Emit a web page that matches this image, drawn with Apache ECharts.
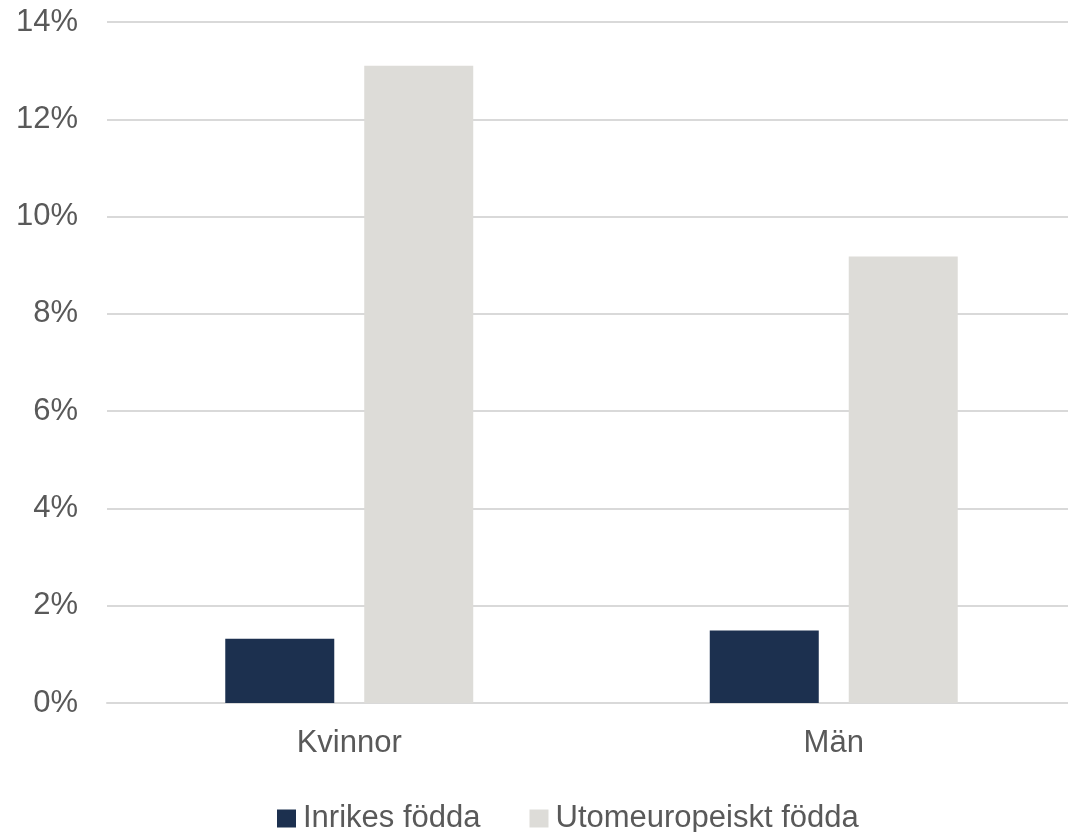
<!DOCTYPE html>
<html><head><meta charset="utf-8">
<script src="https://cdn.jsdelivr.net/npm/echarts@6/dist/echarts.min.js"></script>
<style>html,body{margin:0;padding:0;background:#fff}#c{width:1068px;height:832px}</style>
</head><body><div id="c"></div>
<script>
const categories = ['Kvinnor', 'Män'];
const seriesNames = ['Inrikes födda', 'Utomeuropeiskt födda'];
const inrikes = [1.32, 1.49];
const utomeuropeiskt = [13.1, 9.18];
const yTicks = [0, 2, 4, 6, 8, 10, 12, 14];

const chart = echarts.init(document.getElementById('c'));
const font = 'Liberation Sans, Arial, sans-serif';
chart.setOption({
  animation: false,
  grid: { left: 107, top: 22, width: 969, height: 681, containLabel: false, outerBoundsMode: 'none' },
  legend: {
    top: 798, left: 272,
    itemWidth: 19, itemHeight: 18, itemGap: 49,
    icon: 'rect',
    textStyle: { fontFamily: font, fontSize: 31, color: '#595959', padding: [0, 0, 0, 2] },
    data: seriesNames
  },
  xAxis: {
    type: 'category', data: categories,
    axisLine: { lineStyle: { color: '#D9D9D9', width: 2 } },
    axisTick: { show: false },
    axisLabel: { fontFamily: font, fontSize: 31, color: '#595959', margin: 25 }
  },
  yAxis: {
    type: 'value', min: yTicks[0], max: yTicks[yTicks.length-1], interval: 2,
    axisLine: { show: false }, axisTick: { show: false },
    splitLine: { lineStyle: { color: '#D9D9D9', width: 2 } },
    axisLabel: { fontFamily: font, fontSize: 31, color: '#595959', margin: 29, formatter: v => v + '%' }
  },
  series: [
    { name: seriesNames[0], type: 'bar', data: inrikes, barWidth: 109, barGap: '27.5%',
      itemStyle: { color: '#1C304F' } },
    { name: seriesNames[1], type: 'bar', data: utomeuropeiskt, barWidth: 109,
      itemStyle: { color: '#DDDCD8' } }
  ]
});
</script></body></html>
